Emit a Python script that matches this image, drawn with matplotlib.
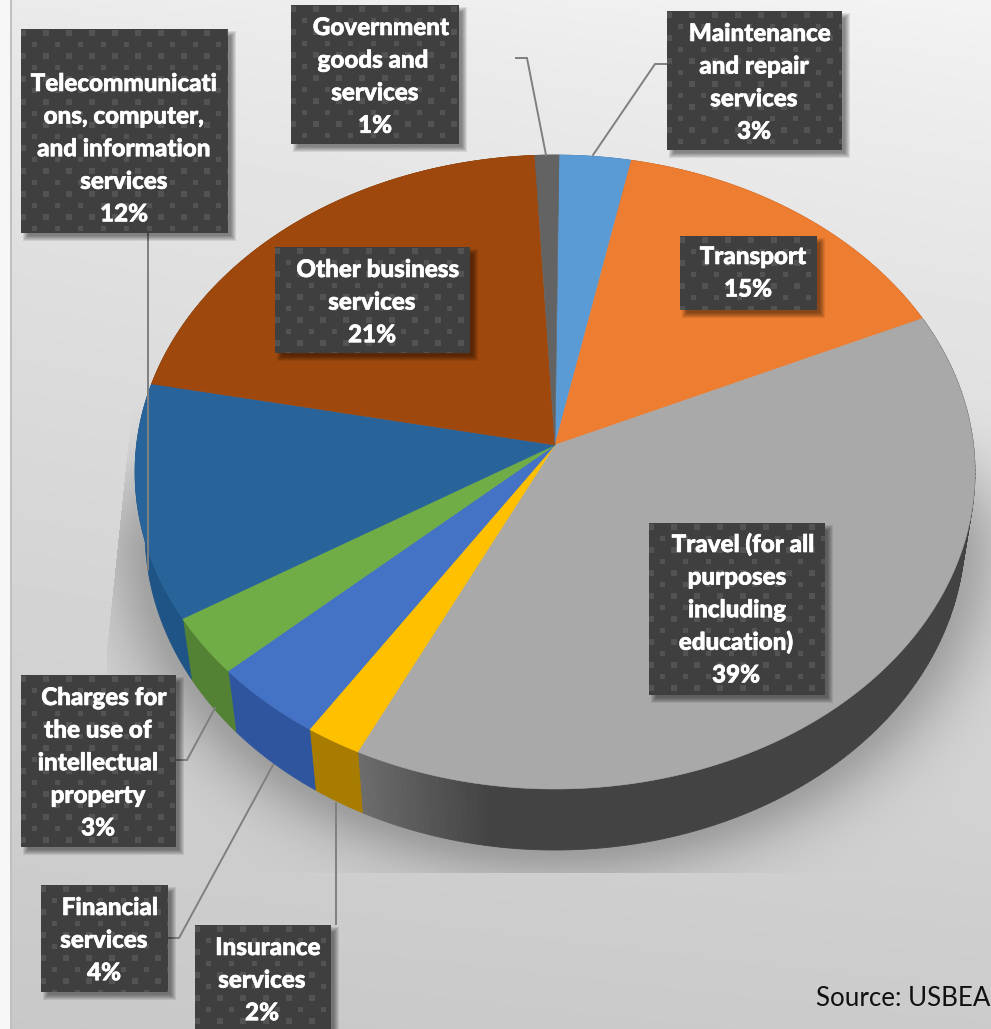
import numpy as np
import matplotlib
matplotlib.use("Agg")
import matplotlib.pyplot as plt
import matplotlib.patheffects as pe
from matplotlib.patches import Rectangle
from matplotlib.collections import PolyCollection
from matplotlib.colors import to_rgb

# ---- data -------------------------------------------------------------
categories = [
    "Maintenance and repair services",
    "Transport",
    "Travel (for all purposes including education)",
    "Insurance services",
    "Financial services",
    "Charges for the use of intellectual property",
    "Telecommunications, computer, and information services",
    "Other business services",
    "Government goods and services",
]
shares = [3, 15, 39, 2, 4, 3, 12, 21, 1]
label_lines = [
    ["Maintenance", "and repair", "services"],
    ["Transport"],
    ["Travel (for all", "purposes", "including", "education)"],
    ["Insurance", "services"],
    ["Financial", "services"],
    ["Charges for", "the use of", "intellectual", "property"],
    ["Telecommunicati", "ons, computer,", "and information", "services"],
    ["Other business", "services"],
    ["Government", "goods and", "services"],
]
source_note = "Source: USBEA"

# ---- styling ----------------------------------------------------------
top_colors = ["#5b9bd5", "#ed7d31", "#a9a9a9", "#ffc000", "#4472c4",
              "#70ad47", "#28639a", "#9e480e", "#636363"]
wall_colors = ["#3f6f9c", "#b05c24", "#434343", "#a87c00", "#2f559e",
               "#548235", "#1f5486", "#763608", "#4a4a4a"]

W, H = 991, 1029
CX, TOP_CY, TOP_RX, TOP_RY = 555, 472, 420, 317
LOW_CY, LOW_RX, LOW_RY = 532, 410, 318
TILT = -0.085        # shift of the pie centre caused by the viewing perspective
START_ANGLE = 0.6    # first slice begins just past 12 o'clock

# Box extents (x0, y0, x1, y1), in the same order as the categories
boxes = [
    (667, 11, 842, 150),
    (680, 236, 817, 310),
    (649, 523, 825, 695),
    (195, 925, 331, 1035),
    (41, 885, 168, 992),
    (21, 675, 176, 847),
    (21, 29, 228, 233),
    (275, 247, 470, 353),
    (291, 5, 459, 144),
]
# Centre x of each text line, and y of the first line
line_x = [
    [760, 754, 754, 754],
    [753, 748],
    [743, 737, 737, 736, 736],
    [268, 262, 262],
    [110, 104, 104],
    [104, 98, 98, 98, 98],
    [124, 124, 124, 124, 124],
    [378, 372, 372],
    [381, 373, 375, 375],
]
first_line_y = [33, 256, 544, 947, 907, 697, 83, 269, 27]
LINE_STEP = 32.6

leaders = [
    ([667, 655, 593], [64, 64, 155]),
    ([336, 336], [924, 803]),
    ([168, 179, 273], [938, 938, 765]),
    ([176, 187, 215], [760, 760, 708]),
    ([148, 148], [233, 570]),
    ([516, 527, 546], [58, 58, 155]),
]


def rim_unit(theta_deg):
    """Map pie angles (clockwise from 12 o'clock) onto the tilted disc."""
    t = np.radians(theta_deg)
    u, v = np.sin(t), -np.cos(t)
    d = 1 + TILT * v
    return u * np.sqrt(1 - TILT ** 2) / d, (v + TILT) / d


def top_rim(theta):
    X, Y = rim_unit(theta)
    return CX + TOP_RX * X, TOP_CY + TOP_RY * Y


def low_rim(theta):
    X, Y = rim_unit(theta)
    return CX + LOW_RX * X, LOW_CY + LOW_RY * Y


fig = plt.figure(figsize=(W / 100, H / 100), dpi=100)
ax = fig.add_axes([0, 0, 1, 1])

# ---- backdrop: soft diagonal gradient plus the ground shadow of the pie ----
yy, xx = np.mgrid[0:H, 0:W] + 0.5
grad = 0.955 - 0.165 * (yy / H) ** 0.8 - 0.035 * ((W - xx) / W) * (1 - yy / H)
grad = np.clip(grad + 0.012 * (xx / W - 0.5) * (yy / H), 0, 1)

rad = np.hypot((xx - CX) / LOW_RX, (yy - LOW_CY) / LOW_RY)
dist = np.clip(rad - 1, 0, None) * 340
fade_in = np.clip((yy - 390) / 170, 0, 1)
fade_in = fade_in * fade_in * (3 - 2 * fade_in)
shadow = 0.24 * np.exp(-(dist / 38) ** 1.5) * fade_in
left_limit = np.where(yy < 650, 133 - (yy - 400) * 26 / 250, 107)
shadow[(yy > 873) | (xx < left_limit)] = 0
grad = grad * (1 - shadow)
grad[:, :10] = 0.965
grad[:, 10:12] = 0.75
ax.imshow(grad, cmap="gray", vmin=0, vmax=1, extent=(0, W, H, 0),
          aspect="auto", interpolation="bilinear", zorder=0)

# ---- pie --------------------------------------------------------------
edges = START_ANGLE + np.cumsum([0] + shares) / sum(shares) * 360

# Walls first, so the top surface covers their hidden parts
for i, share in enumerate(shares):
    th = np.linspace(edges[i], edges[i + 1], max(6, share * 5))
    tx, ty = top_rim(th)
    lx, ly = low_rim(th)
    base = np.array(to_rgb(wall_colors[i]))
    if categories[i].startswith("Travel"):
        # The grey wall lightens towards its lower left end
        for j in range(len(th) - 1):
            mix = np.clip((th[j] - 188) / 17, 0, 1)
            col = base + mix * (np.array(to_rgb("#6c6c6c")) - base)
            ax.fill([tx[j], tx[j + 1], lx[j + 1], lx[j]],
                    [ty[j], ty[j + 1], ly[j + 1], ly[j]],
                    color=col, lw=0.6, zorder=2)
    else:
        ax.fill(np.r_[tx, lx[::-1]], np.r_[ty, ly[::-1]],
                color=base, lw=0.5, zorder=2)

for i, share in enumerate(shares):
    th = np.linspace(edges[i], edges[i + 1], max(8, share * 6))
    tx, ty = top_rim(th)
    ax.fill(np.r_[CX, tx], np.r_[445, ty], color=top_colors[i], lw=0.4, zorder=3)

# ---- leader lines -----------------------------------------------------
for lx_, ly_ in leaders:
    ax.plot(lx_, ly_, color="#7f7f7f", lw=1.4, solid_joinstyle="miter", zorder=4)

# ---- label boxes ------------------------------------------------------
thicken = [pe.withStroke(linewidth=0.45, foreground="white")]
for i, (x0, y0, x1, y1) in enumerate(boxes):
    # Soft drop shadow
    for k in range(6):
        g = 3 - k
        ax.add_patch(Rectangle((x0 + 5 - g, y0 + 5 - g), x1 - x0 + 2 * g, y1 - y0 + 2 * g,
                               fc="black", ec="none", alpha=0.085, zorder=5))
    box = Rectangle((x0, y0), x1 - x0, y1 - y0, fc="#3f3f3f", ec="none", zorder=6)
    ax.add_patch(box)

    # Staggered dot pattern
    squares = []
    for r, yc in enumerate(np.arange(y0 + 4, y1 + 6, 11.5)):
        for xc in np.arange(x0 + (2 if r % 2 == 0 else 13.5), x1 + 6, 23):
            squares.append([(xc - 2.8, yc - 2.8), (xc + 2.8, yc - 2.8),
                            (xc + 2.8, yc + 2.8), (xc - 2.8, yc + 2.8)])
    dots = PolyCollection(squares, facecolors="#535353", edgecolors="none", zorder=7)
    ax.add_collection(dots)
    dots.set_clip_path(box)

    lines = label_lines[i] + [f"{shares[i]}%"]
    for n, text in enumerate(lines):
        ax.text(line_x[i][n], first_line_y[i] + n * LINE_STEP + 8, text, color="white",
                family="Lato", weight=900, fontsize=17.4, ha="center", va="baseline",
                zorder=8, path_effects=thicken)

ax.text(816, 1006.5, source_note, color="#111111", family="Lato", fontsize=18.6,
        ha="left", va="baseline", zorder=8)

ax.set_xlim(0, W)
ax.set_ylim(H, 0)
ax.axis("off")
fig.savefig("out.png", dpi=100)
